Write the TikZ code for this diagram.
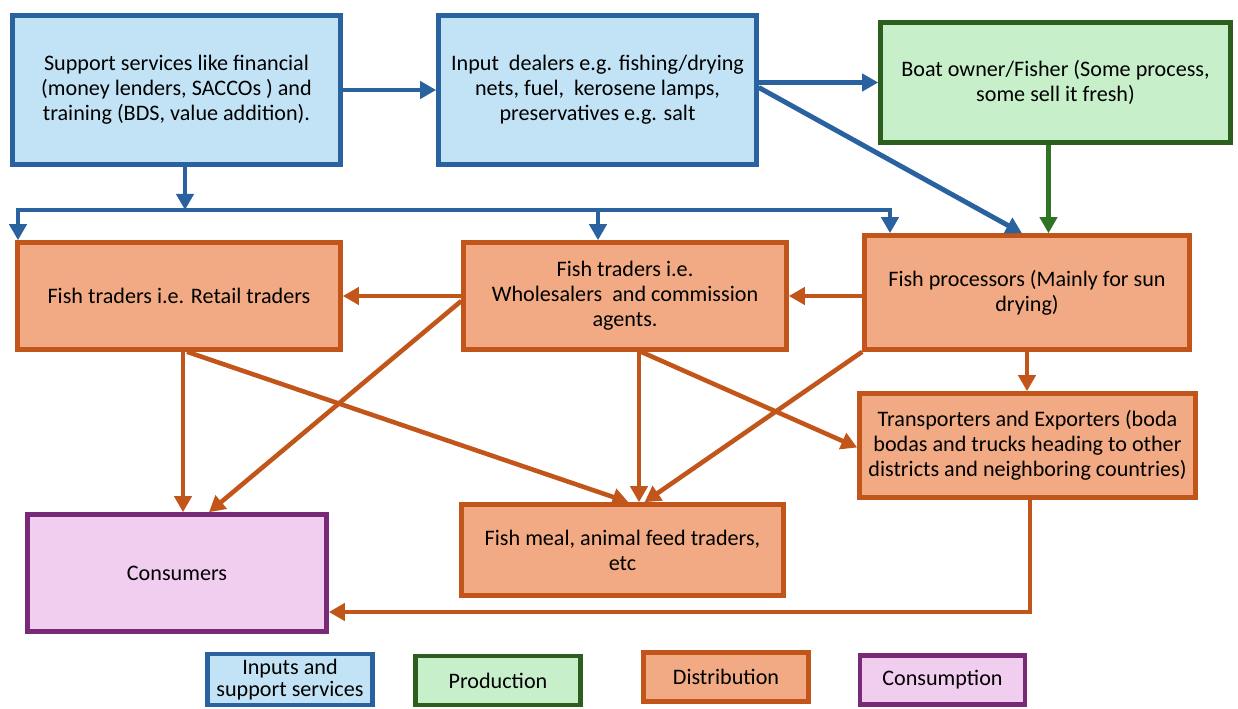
\documentclass[tikz,border=0pt]{standalone}
\usepackage{fontspec}
\setmainfont{Carlito}
\usepackage{tikz}
\usetikzlibrary{arrows.meta,positioning,calc}
\definecolor{inline}{HTML}{2A62A0}
\definecolor{infill}{HTML}{C2E3F5}
\definecolor{prodline}{HTML}{2C5E1E}
\definecolor{prodarr}{HTML}{2E7424}
\definecolor{prodfill}{HTML}{C6EFCA}
\definecolor{distline}{HTML}{C2561A}
\definecolor{distfill}{HTML}{F1AA83}
\definecolor{consline}{HTML}{782A78}
\definecolor{consfill}{HTML}{F1CDF0}

\begin{document}
\begin{tikzpicture}[
  font=\fontsize{12.6}{14.2}\selectfont,
  box/.style={draw=#1line,fill=#1fill,line width=2.6pt,align=center,inner sep=3pt},
  box/.default=dist,
  key/.style={box=#1,minimum width=3.3cm,minimum height=0.98cm},
  arr/.style={-{Triangle[length=3.2mm,width=3.4mm]},line width=2.6pt,color=#1},
  arr/.default=distline]
\useasboundingbox (0,0) rectangle (24.76,-14.18);
% inputs and production
\node[box=in,minimum width=6.56cm,minimum height=2.98cm] (supp) at (3.53,-1.80) {Support services like financial\\(money lenders, SACCOs ) and\\training (BDS, value addition).};
\node[box=in,minimum width=6.36cm,minimum height=2.98cm] (inp) at (11.95,-1.80) {Input\ \ dealers e.g. fishing/drying\\nets, fuel,\ \ kerosene lamps,\\preservatives e.g. salt};
\node[box=prod,minimum width=7.0cm,minimum height=2.4cm] (boat) at (21.11,-1.65) {Boat owner/Fisher (Some process,\\some sell it fresh)};
\draw[arr=inline,line width=2.8pt] (supp) -- (inp);
\draw[arr=inline,line width=2.8pt] (inp.east |- boat.west) -- (boat.west);
% distribution
\node[box,minimum width=6.46cm,minimum height=2.14cm] (retail) at (3.58,-5.92) {Fish traders i.e. Retail traders};
\node[box,minimum width=6.46cm,minimum height=2.14cm] (whole) at (12.50,-5.92) {Fish traders i.e.\\Wholesalers\ \ and commission\\agents.};
\node[box,minimum width=6.50cm,minimum height=2.28cm] (proc) at (20.54,-5.85) {Fish processors (Mainly for sun\\drying)};
\node[box,minimum width=6.72cm,minimum height=2.08cm] (trans) at (20.55,-8.91) {Transporters and Exporters (boda\\bodas and trucks heading to other\\districts and neighboring countries)};
\node[box,minimum width=6.44cm,minimum height=1.82cm] (meal) at (12.45,-11.00) {Fish meal, animal feed traders,\\etc};
\node[box=cons,minimum width=5.98cm,minimum height=2.34cm] (cons) at (3.54,-11.46) {Consumers};
\draw[arr=inline,line width=2.8pt] ([yshift=-0.1cm]inp.east |- boat.west) -- ([xshift=-0.1cm]proc.north);
\draw[arr=prodarr] ([xshift=-0.14cm]boat.south) -- ([xshift=-0.14cm]boat.south |- proc.north);
% support bus
\coordinate (busL) at (0.36,-4.20);
\coordinate (busM) at (11.96,-4.20);
\coordinate (busR) at (17.80,-4.20);
\draw[arr=inline,line width=2.8pt] ([xshift=0.17cm]supp.south) -- ([xshift=0.17cm]supp.south |- busL);
\draw[arr=inline,line width=2.8pt,{Triangle[length=3.2mm,width=3.4mm]}-{Triangle[length=3.2mm,width=3.4mm]}] (busL |- retail.north) -- (busL) -- (busR) -- (busR |- proc.north);
\draw[arr=inline,line width=2.8pt] (busM) -- (busM |- whole.north);
% trade flows
\draw[arr] (whole.west) -- (retail.east);
\draw[arr] (proc.west |- whole.east) -- (whole.east);
\draw[arr] ([xshift=0.08cm]retail.south) -- ([xshift=0.08cm]retail.south |- cons.north);
\draw[arr] ([xshift=0.16cm]retail.south) -- ([xshift=0.12cm]meal.north);
\draw[arr] ([yshift=-0.1cm]whole.west) -- ([xshift=0.64cm]cons.north);
\draw[arr] ([xshift=0.28cm]whole.south) -- ([xshift=0.28cm]whole.south |- meal.north);
\draw[arr] ([xshift=0.32cm]whole.south) -- ([yshift=-0.04cm]trans.west);
\draw[arr] (proc.south west) -- ([xshift=0.44cm]meal.north);
\draw[arr] (proc.south) -- (proc.south |- trans.north);
\draw[arr] ([xshift=0.05cm]trans.south) |- ([yshift=-0.78cm]cons.east);
% key
\node[key=in] (kin) at (5.80,-13.59) {Inputs and\\[-2pt]support services};
\node[key=prod] (kprod) at (9.96,-13.61) {Production};
\node[key=dist] (kdist) at (14.52,-13.54) {Distribution};
\node[key=cons] (kcons) at (18.85,-13.60) {Consumption};
\end{tikzpicture}
\end{document}
